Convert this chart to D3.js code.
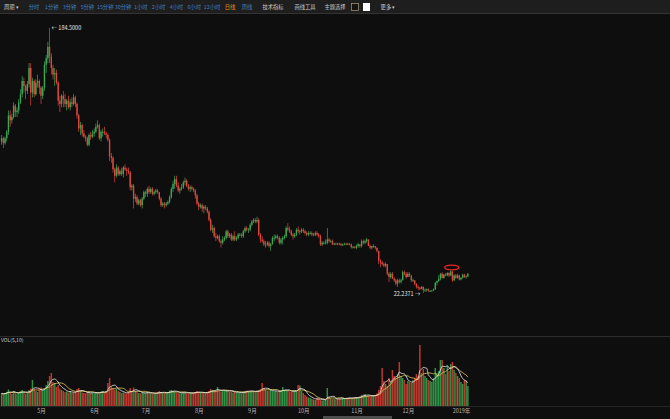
<!DOCTYPE html>
<html><head><meta charset="utf-8">
<script src="https://cdn.jsdelivr.net/npm/d3@7"></script>
<style>
html,body{margin:0;padding:0;background:#0e0e0e;overflow:hidden}
svg{display:block;font-family:"Noto Sans CJK SC","Noto Sans",sans-serif}
</style></head><body>
<svg id="c" width="670" height="419"></svg>
<script>
// ---------- data (daily candles, 2018-04-08 .. 2019-01-05) ----------
const startDate = "2018-04-08";
const opens = [
115,117,114,117,121,131,128,130,137,133,134,139,144,152,149,146,150,160,145,152,144,151,152,
148,143,148,162,166,173,167,160,156,157,151,140,138,143,141,138,140,136,139,138,142,138,131,123,125,120,118,117,113,119,118,
120,121,124,125,117,121,121,120,119,116,106,105,98,94,99,95,97,95,99,98,97,96,87,88,80,81,77,79,76,80,
84,83,86,84,86,83,84,85,84,80,76,77,76,77,78,81,86,89,92,88,85,86,87,90,91,88,86,87,86,85,82,
77,75,76,74,75,74,72,67,61,62,57,56,57,54,53,55,56,60,57,58,55,57,55,56,58,58,57,60,62,61,61,
64,66,67,66,67,58,55,54,52,52,53,51,52,56,56,57,56,53,55,56,57,62,61,60,58,57,58,61,60,60,
61,60,59,58,59,59,58,58,59,58,57,52,53,53,53,55,54,54,52,52.5,52,52.5,52.2,51.5,52,52.4,52,52.3,52,50.2,50.5,
50,51,52,51,54,53,54,55,51,50,51,51,50,48,42,41,40,39,40,34,32,34,31,30,28,30,29,30,35,34,
32,34,33,30,30,28,26,25.5,24.8,26,24,24.2,24.5,23.5,23.5,23.8,24.5,28.5,29.5,31,34,31.5,33.5,33,34.5,33,35.5,30,33,31.5,33,30.5,31.5,33.5,32,32.5];
const highs = [
119,118,118,122,134,134,132,139,138,136,141,147,155,154,150,152,163,163,154,153,153,156,153,
149,149,164,168,176,184.5,169,162,160,159,152,143,144,146,144,141,143,141,142,144,143,139,132,127,126,122,119,118,120,121,122,
123,126,128,126,122,123,124,121,120,117,108,106,99,101,100,98,99,100,101,99,99,97,89,89,83,82,80,80,81,85,
85,87,88,87,87,85,86,86,84,81,78,78,78,79,82,87,91,94,94,90,87,89,91,93,92,89,88,88,87,86,83,
78,77,77,76,76,75,73,68,64,63,59,58,58,55,57,57,61,61,59,59,58,60,57,59,59,59,61,63,63,62,65,
67,68,68,69,68,59,57,55,54,54,54,53,57,58,58,58,57,56,57,58,63,65,63,61,59,59,62,63,61,62,
62,61,60,60,60,60,59,60,60,59,58,54,54,55,62,56,55,55,53,53,53,53,53,52.5,53,53,53,53,52.5,51,51,
52,53,52,55,55,55,56,55,52,51,52,51,50,48,43,42,41,41,40,35,35,35,32,31,31,31,31,36,36,35,
35,35,33,31,30,28,27,26,26.5,26.2,25,25,25,24,24,25,29,30,33,34.5,35,34,34.5,35,35,36,35.5,33.5,34,34,33.5,32,34,34,33,34.5];
const lows = [
113,111,113,115,119,124,126,129,130,130,132,138,142,145,141,144,148,137,142,142,143,148,144,
138,141,146,157,163,163,156,153,149,150,137,133,136,136,136,134,135,134,136,137,136,129,121,119,118,117,115,112,112,116,117,
118,120,123,116,115,118,119,117,115,103,102,96,90,93,94,94,94,93,97,94,95,85,85,74,78,76,76,75,74,79,
81,81,83,83,82,82,83,83,79,75,75,74,75,76,77,80,84,86,87,84,83,85,86,88,87,85,84,85,84,80,76,
73,74,72,71,73,71,66,60,59,56,54,55,53,50,52,54,55,56,56,54,54,54,54,55,57,56,56,59,60,59,60,
63,65,65,65,57,53,53,51,50,51,50,48,52,54,55,55,52,52,52,55,56,60,59,57,55,56,57,59,58,59,
59,58,57,57,58,57,57,57,57,56,51,51,52,52,52,53,53,51.5,51.5,51.5,51.5,51.5,51,51,51.5,51.5,51.5,51.5,49.5,49.5,49.5,
49,50,50,50,52,52,53,51,49,49,50,49,47,40,38,39,38,38,33,29,31,31,29,27,26,28,28,30,33,31,
32,32,29,29,27,25,24,24,24.5,22.2371,23,23,23,22.8,23,23.5,24,27,29,30,31,31,32.5,32.5,32,32.5,29,29.5,31,31,30,30,31,31.5,31,32];
const closes = [
117,114,117,121,131,128,130,137,133,134,139,144,152,149,146,150,160,145,152,144,151,152,148,
143,148,162,166,173,167,160,156,157,151,140,138,143,141,138,140,136,139,138,142,138,131,123,125,120,118,117,113,119,118,120,
121,124,125,117,121,121,120,119,116,106,105,98,94,99,95,97,95,99,98,97,96,87,88,80,81,77,79,76,80,84,
83,86,84,86,83,84,85,84,80,76,77,76,77,78,81,86,89,92,88,85,86,87,90,91,88,86,87,86,85,82,77,
75,76,74,75,74,72,67,61,62,57,56,57,54,53,55,56,60,57,58,55,57,55,56,58,58,57,60,62,61,61,64,
66,67,66,67,58,55,54,52,52,53,51,52,56,56,57,56,53,55,56,57,62,61,60,58,57,58,61,60,60,61,
60,59,58,59,59,58,58,59,58,57,52,53,53,53,55,54,54,52,52.5,52,52.5,52.2,51.5,52,52.4,52,52.3,52,50.2,50.5,50,
51,52,51,54,53,54,55,51,50,51,51,50,48,42,41,40,39,40,34,32,34,31,30,28,30,29,30,35,34,32,
34,33,30,30,28,26,25.5,24.8,26,24,24.2,24.5,23.5,23.5,23.8,24.5,28.5,29.5,31,34,31.5,33.5,33,34.5,33,35.5,30,33,31.5,33,30.5,31.5,33.5,32,32.5,34];
const volumes = [
125,118,130,142,165,138,120,150,128,118,135,148,160,135,122,130,158,175,
260,170,150,140,165,185,160,175,
210,250,300,330,240,230,190,
210,175,160,150,140,145,135,150,
130,135,140,170,180,150,135,130,128,140,135,130,132,125,140,138,130,
145,150,135,150,230,280,190,180,165,170,150,140,
130,135,128,125,140,180,150,185,150,140,130,128,135,130,132,140,130,128,125,122,126,140,150,135,130,128,132,140,155,160,150,140,
135,130,128,132,140,135,128,125,132,130,135,140,150,138,130,128,135,132,140,150,170,160,150,155,190,150,145,150,155,160,
150,145,140,135,140,138,132,130,135,145,150,155,150,148,150,145,140,150,155,170,
230,
175,160,150,155,160,150,145,150,140,150,148,190,160,155,150,145,140,150,155,148,
210,205,
150,130,110,95,85,80,70,65,60,80,75,60,55,58,62,
180,
90,75,70,72,68,70,75,72,78,80,75,82,85,80,78,85,88,90,
95,110,115,120,100,105,95,100,110,105,125,
160,200,380,
250,220,200,280,240,360,300,280,320,440,
300,280,260,220,250,240,230,260,280,320,300,610,
330,370,300,280,260,250,240,280,380,330,350,460,460,
380,320,400,350,420,440,360,330,300,280,240,220,260,250,200];
const monthTicks = ["2018-05-01","2018-06-01","2018-07-01","2018-08-01","2018-09-01","2018-10-01","2018-11-01","2018-12-01","2019-01-01"];
const monthLabels = ["5月","6月","7月","8月","9月","10月","11月","12月","2019年"];
const periodLabels = ["分时","1分钟","3分钟","5分钟","15分钟","30分钟","1小时","2小时","4小时","6小时","12小时"];
const activePeriod = "日线";
const weekPeriod = "周线";
const toolLabels = ["技术指标","画线工具","主题选择"];
const moreLabel = "更多 ▾";
const volLabel = "VOL(5,10)";
const markDate = "2018-12-26";

// ---------- setup ----------
const W = 670, H = 419;
const svg = d3.select("#c");
const parseDay = d3.utcParse("%Y-%m-%d");
const t0 = parseDay(startDate);
const dates = d3.range(closes.length).map(i => d3.utcDay.offset(t0, i));
const data = dates.map((d, i) => ({date: d, o: opens[i], h: highs[i], l: lows[i], c: closes[i], v: volumes[i]}));

const RED = "#e0473d", GREEN = "#3fa656";
const VRED = "#bf372e", VGREEN = "#2f9145";

svg.append("rect").attr("width", W).attr("height", H).attr("fill", "#0e0e0e");

const x = d3.scaleUtc().domain([t0, parseDay("2019-01-01")]).range([1.6, 461]);
const yMin = d3.min(lows), yMax = d3.max(highs);
const y = d3.scaleLinear().domain([yMin, yMax]).range([293, 28]);
const yv = d3.scaleLinear().domain([0, d3.max(volumes)]).range([406, 345]);

// ---------- candles ----------
const cg = svg.append("g");
cg.selectAll("rect.wick").data(data).join("rect")
  .attr("x", d => x(d.date) - 0.35).attr("width", 0.7)
  .attr("y", d => y(d.h)).attr("height", d => Math.max(0.6, y(d.l) - y(d.h)))
  .attr("fill", d => d.c >= d.o ? GREEN : RED);
cg.selectAll("rect.body").data(data).join("rect")
  .attr("x", d => x(d.date) - 0.7).attr("width", 1.4)
  .attr("y", d => y(Math.max(d.o, d.c)))
  .attr("height", d => Math.max(0.8, Math.abs(y(d.o) - y(d.c))))
  .attr("fill", d => d.c >= d.o ? GREEN : RED);

// max / min labels
const iMax = highs.indexOf(yMax), iMin = lows.indexOf(yMin);
svg.append("text").attr("x", x(dates[iMax]) + 2).attr("y", y(yMax) + 2)
  .attr("font-size", 5.5).attr("fill", "#e6e6e6").text("← " + yMax.toFixed(4));
svg.append("text").attr("x", x(dates[iMin]) - 3).attr("y", y(yMin) + 3)
  .attr("text-anchor", "end").attr("font-size", 5.5).attr("fill", "#e6e6e6").text(yMin.toFixed(4) + " →");

// annotation ellipse
const iMark = dates.findIndex(d => +d === +parseDay(markDate));
svg.append("ellipse").attr("cx", x(dates[iMark]) + 1).attr("cy", y(highs[iMark]) - 3)
  .attr("rx", 7).attr("ry", 2.3).attr("fill", "none").attr("stroke", "#e8262a").attr("stroke-width", 1.3);

// ---------- volume panel ----------
svg.append("line").attr("x1", 0).attr("x2", W).attr("y1", 336.5).attr("y2", 336.5).attr("stroke", "#2c2c2c");
svg.append("text").attr("x", 1).attr("y", 342).attr("font-size", 5).attr("fill", "#cfcfcf").text(volLabel);

svg.append("g").selectAll("rect").data(data).join("rect")
  .attr("x", d => x(d.date) - 0.75).attr("width", 1.5)
  .attr("y", d => yv(d.v)).attr("height", d => yv(0) - yv(d.v))
  .attr("fill", d => d.c >= d.o ? VGREEN : VRED);

function ma(n) {
  return data.map((d, i) => {
    const s = data.slice(Math.max(0, i - n + 1), i + 1);
    return {date: d.date, v: d3.mean(s, e => e.v)};
  });
}
const line = d3.line().x(d => x(d.date)).y(d => yv(d.v)).curve(d3.curveMonotoneX);
svg.append("path").datum(ma(10)).attr("d", line).attr("fill", "none").attr("stroke", "#e3c65c").attr("stroke-width", 0.8);
svg.append("path").datum(ma(5)).attr("d", line).attr("fill", "none").attr("stroke", "#ececec").attr("stroke-width", 0.8);

// ---------- x axis ----------
svg.append("line").attr("x1", 0).attr("x2", W).attr("y1", 406.5).attr("y2", 406.5).attr("stroke", "#262626");
const ax = svg.append("g").attr("transform", "translate(0,406)")
  .call(d3.axisBottom(x).tickValues(monthTicks.map(parseDay))
    .tickFormat((d, i) => monthLabels[i]).tickSize(0).tickPadding(3));
ax.select(".domain").remove();
ax.selectAll("text").attr("font-size", 5.5).attr("fill", "#b4b4b4")
  .attr("font-family", "Noto Sans CJK SC, Noto Sans, sans-serif");

// scroll indicator
svg.append("rect").attr("x", 323).attr("y", 416).attr("width", 69).attr("height", 3).attr("fill", "#4e4e4e");

// ---------- toolbar ----------
const tb = svg.append("g");
tb.append("rect").attr("width", W).attr("height", 13).attr("fill", "#1e1e1e");
tb.append("line").attr("x1", 0).attr("x2", W).attr("y1", 13.5).attr("y2", 13.5).attr("stroke", "#333");
const tfont = 5.3, tby = 8.8;
tb.append("text").attr("x", 4).attr("y", tby).attr("font-size", tfont).attr("fill", "#cccccc").text("周期 ▾");
const periodX = d3.scalePoint().domain(periodLabels).range([34, 212]);
tb.selectAll("text.p").data(periodLabels).join("text")
  .attr("x", d => periodX(d)).attr("y", tby).attr("text-anchor", "middle")
  .attr("font-size", tfont).attr("fill", "#3f7fc2").text(d => d);
tb.append("text").attr("x", 230).attr("y", tby).attr("text-anchor", "middle")
  .attr("font-size", tfont).attr("fill", "#e68a1c").text(activePeriod);
tb.append("text").attr("x", 247).attr("y", tby).attr("text-anchor", "middle")
  .attr("font-size", tfont).attr("fill", "#3f7fc2").text(weekPeriod);
const toolX = [273, 305, 335];
tb.selectAll("text.t").data(toolLabels).join("text")
  .attr("x", (d, i) => toolX[i]).attr("y", tby).attr("text-anchor", "middle")
  .attr("font-size", tfont).attr("fill", "#cccccc").text(d => d);
tb.append("rect").attr("x", 351.5).attr("y", 3.5).attr("width", 7).attr("height", 7)
  .attr("fill", "#161210").attr("stroke", "#9a8a78").attr("stroke-width", 0.8);
tb.append("rect").attr("x", 363).attr("y", 3).attr("width", 7).attr("height", 8).attr("fill", "#ffffff");
tb.append("text").attr("x", 388).attr("y", tby).attr("text-anchor", "middle")
  .attr("font-size", tfont).attr("fill", "#cccccc").text(moreLabel);
</script>
</body></html>
